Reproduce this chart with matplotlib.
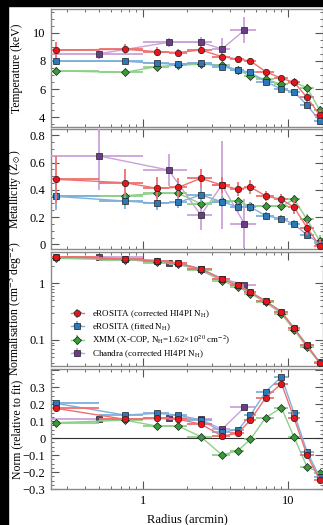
import numpy as np
import matplotlib
matplotlib.use("Agg")
import matplotlib.pyplot as plt
from matplotlib.ticker import MultipleLocator, FixedLocator, NullFormatter, FixedFormatter

plt.rcParams["font.family"] = ["Liberation Serif", "DejaVu Serif"]
plt.rcParams["mathtext.fontset"] = "stix"
plt.rcParams["font.size"] = 9

# radial bins (arcmin): centres and half widths
r_mid = [0.25, 0.75, 1.25, 1.75, 2.5, 3.5, 4.5, 5.5, 7.0, 9.0, 11.0, 13.5, 16.5]
r_hw = [0.25, 0.25, 0.25, 0.25, 0.5, 0.5, 0.5, 0.5, 1.0, 1.0, 1.0, 1.5, 1.5]
ch_mid = [0.5, 1.5, 2.5, 3.5, 5.0]
ch_hw = [0.5, 0.5, 0.5, 0.5, 1.0]

# temperature (keV)
kt_ero = [8.79, 8.83, 8.67, 8.6, 8.79, 8.31, 8.14, 8.0, 7.24, 6.76, 6.48, 5.4, 4.14]
kt_ero_err = [0.55, 0.35, 0.3, 0.25, 0.3, 0.25, 0.2, 0.2, 0.2, 0.2, 0.25, 0.3, 0.35]
kt_fit = [7.98, 7.98, 7.83, 7.76, 7.88, 7.6, 7.36, 7.19, 6.52, 6.0, 5.79, 4.86, 3.74]
kt_fit_err = [0.3, 0.2, 0.15, 0.15, 0.2, 0.15, 0.15, 0.15, 0.15, 0.15, 0.2, 0.25, 0.3]
kt_xmm = [7.29, 7.19, 7.6, 7.71, 7.76, 7.71, 7.36, 6.93, 6.71, 6.33, 6.48, 6.1, 4.5]
kt_xmm_err = [0.3, 0.2, 0.15, 0.15, 0.15, 0.15, 0.15, 0.15, 0.15, 0.15, 0.2, 0.25, 0.3]
kt_ch = [8.52, 9.33, 9.33, 8.86, 10.2]
kt_ch_err = [0.35, 0.3, 0.35, 0.75, 0.95]

# metallicity (Zsun)
z_ero = [0.477, 0.452, 0.411, 0.418, 0.484, 0.435, 0.404, 0.421, 0.355, 0.33, 0.272, 0.122, -0.01]
z_ero_err = [0.17, 0.1, 0.08, 0.07, 0.07, 0.06, 0.05, 0.05, 0.04, 0.04, 0.05, 0.05, 0.04]
z_fit = [0.352, 0.318, 0.301, 0.308, 0.362, 0.313, 0.274, 0.274, 0.21, 0.188, 0.149, 0.068, 0.01]
z_fit_err = [0.1, 0.06, 0.05, 0.04, 0.05, 0.04, 0.04, 0.04, 0.03, 0.03, 0.03, 0.03, 0.03]
z_xmm = [0.355, 0.357, 0.374, 0.374, 0.298, 0.316, 0.316, 0.278, 0.281, 0.278, 0.33, 0.183, 0.026]
z_xmm_err = [0.04, 0.03, 0.03, 0.03, 0.03, 0.03, 0.03, 0.03, 0.03, 0.03, 0.03, 0.04, 0.04]
z_ch = [0.648, 0.545, 0.215, 0.435, 0.151]
z_ch_err = [0.25, 0.12, 0.11, 0.32, 0.18]

# normalisation (cm^-5 deg^-2)
n_ero = [2.95, 2.68, 2.5, 2.25, 1.79, 1.18, 0.92, 0.69, 0.487, 0.31, 0.16, 0.08, 0.040]
n_fit = [2.95, 2.7, 2.52, 2.28, 1.8, 1.2, 0.93, 0.7, 0.49, 0.315, 0.163, 0.081, 0.041]
n_xmm = [2.75, 2.6, 2.4, 2.15, 1.7, 1.1, 0.86, 0.66, 0.46, 0.29, 0.15, 0.075, 0.039]
n_ch = [2.85, 2.3, 1.8, 1.2, 0.95]

# normalisation relative to fit
d_ero = [0.175, 0.11, 0.116, 0.11, 0.082, 0.012, 0.027, 0.106, 0.237, 0.32, 0.116, -0.1, -0.247]
d_fit = [0.204, 0.135, 0.145, 0.135, 0.106, 0.037, 0.047, 0.135, 0.272, 0.36, 0.145, -0.08, -0.23]
d_xmm = [0.09, 0.105, 0.07, 0.07, 0.008, -0.1, -0.075, -0.008, 0.12, 0.178, 0.004, -0.169, -0.204]
d_ch = [0.11, 0.116, 0.11, 0.051, 0.18]

series = [
    ("eROSITA (corrected HI4PI N$_\\mathrm{H}$)", "#e8141c", "#f07070", "o"),
    ("eROSITA (fitted N$_\\mathrm{H}$)", "#2f78b8", "#7fb0dc", "s"),
    ("XMM (X-COP, N$_\\mathrm{H}$=1.62\u00d710$^{20}$ cm$^{-2}$)", "#3a9a38", "#8ed08a", "D"),
    ("Chandra (corrected HI4PI N$_\\mathrm{H}$)", "#6a3d8a", "#c9a2d8", "s"),
]


def draw(ax, x, xe, y, ye, k, label=None):
    lab, dark, light, mk = series[k]
    ms = 4.6 if mk != "D" else 3.8
    ax.errorbar(x, y, xerr=xe, yerr=ye, fmt="-", color=light, lw=1.0,
                elinewidth=1.3, marker=mk, mfc=dark, mec="#202020", mew=0.5,
                ms=ms, capsize=0, label=label, zorder=3 + (3 - k))


fig = plt.figure(figsize=(3.23, 5.25), dpi=100)
W, H = 323.0, 525.0
left = 51 / W
boxes = [(9, 127), (129, 249), (252, 366), (369, 489)]
axes = []
for top, bot in boxes:
    ax = fig.add_axes([left, 1 - bot / H, 1.0 - left, (bot - top) / H])
    axes.append(ax)

ax1, ax2, ax3, ax4 = axes

# temperature
draw(ax1, r_mid, r_hw, kt_fit, kt_fit_err, 1)
draw(ax1, r_mid, r_hw, kt_xmm, kt_xmm_err, 2)
draw(ax1, r_mid, r_hw, kt_ero, kt_ero_err, 0)
draw(ax1, ch_mid, ch_hw, kt_ch, kt_ch_err, 3)
ax1.set_ylim(3.29, 11.71)
ax1.yaxis.set_major_locator(MultipleLocator(2))
ax1.yaxis.set_minor_locator(MultipleLocator(0.5))
ax1.set_ylabel("Temperature (keV)", fontsize=8.5)

# metallicity
draw(ax2, r_mid, r_hw, z_fit, z_fit_err, 1)
draw(ax2, r_mid, r_hw, z_xmm, z_xmm_err, 2)
draw(ax2, r_mid, r_hw, z_ero, z_ero_err, 0)
draw(ax2, ch_mid, ch_hw, z_ch, z_ch_err, 3)
ax2.set_ylim(-0.034, 0.846)
ax2.yaxis.set_major_locator(MultipleLocator(0.2))
ax2.yaxis.set_minor_locator(MultipleLocator(0.05))
ax2.yaxis.set_major_formatter(FixedFormatter(["", "0", "0.2", "0.4", "0.6", "0.8"]))
ax2.set_ylabel("Metallicity (Z$_\\odot$)", fontsize=8.5)

# normalisation
n_err = [v * 0.03 for v in n_ero]
draw(ax3, r_mid, r_hw, n_ero, n_err, 0, series[0][0])
draw(ax3, r_mid, r_hw, n_fit, n_err, 1, series[1][0])
draw(ax3, r_mid, r_hw, n_xmm, n_err, 2, series[2][0])
draw(ax3, ch_mid, ch_hw, n_ch, [v * 0.04 for v in n_ch], 3, series[3][0])
ax3.set_yscale("log")
ax3.set_ylim(0.0348, 3.56)
ax3.yaxis.set_major_locator(FixedLocator([0.1, 1]))
ax3.yaxis.set_major_formatter(FixedFormatter(["0.1", "1"]))
ax3.yaxis.set_minor_formatter(NullFormatter())
ax3.set_ylabel("Normalisation (cm$^{-5}$ deg$^{-2}$)", fontsize=8.5)
ax3.legend(loc="lower left", bbox_to_anchor=(0.05, 0.0), frameon=False,
           fontsize=6.5, handlelength=1.4, handletextpad=0.9, labelspacing=0.12,
           borderaxespad=0.3)

# relative norm
ax4.axhline(0, color="#303030", lw=0.8, zorder=2)
derr = [0.012] * len(r_mid)
draw(ax4, r_mid, r_hw, d_fit, derr, 1)
draw(ax4, r_mid, r_hw, d_ero, derr, 0)
draw(ax4, r_mid, r_hw, d_xmm, derr, 2)
draw(ax4, ch_mid, ch_hw, d_ch, [0.015] * 5, 3)
ax4.set_ylim(-0.30, 0.406)
ax4.yaxis.set_major_locator(MultipleLocator(0.1))
ax4.yaxis.set_minor_locator(MultipleLocator(0.025))
ax4.yaxis.set_major_formatter(FixedFormatter(
    ["", "\u22120.3", "\u22120.2", "\u22120.1", "0", "0.1", "0.2", "0.3", ""]))
ax4.set_ylabel("Norm (relative to fit)", fontsize=8.5)
ax4.set_xlabel("Radius (arcmin)", labelpad=5)

for ax in axes:
    ax.set_xscale("log")
    ax.set_xlim(0.232, 17.4)
    ax.xaxis.set_major_locator(FixedLocator([1, 10]))
    ax.tick_params(which="both", direction="in", top=True, right=True,
                   color="#555555", labelsize=9, pad=4)
    ax.tick_params(which="major", length=5.5, width=0.8)
    ax.tick_params(which="minor", length=2.5, width=0.6)
    ax.yaxis.set_label_coords(-0.103, 0.5)
    for s in ax.spines.values():
        s.set_color("#8a8a8a")
        s.set_linewidth(1.0)
    if ax is not ax4:
        ax.xaxis.set_major_formatter(NullFormatter())
        ax.xaxis.set_minor_formatter(NullFormatter())
    else:
        ax.xaxis.set_major_formatter(FixedFormatter(["1", "10"]))
        ax.xaxis.set_minor_formatter(NullFormatter())

# black frame strips of the original screenshot
fig.patches.append(plt.Rectangle((0, 0), 8 / W, 1, transform=fig.transFigure,
                                 color="black", zorder=10))
fig.patches.append(plt.Rectangle((0, 1 - 6 / H), 1, 6 / H, transform=fig.transFigure,
                                 color="black", zorder=10))

fig.savefig("out.png", dpi=100)
